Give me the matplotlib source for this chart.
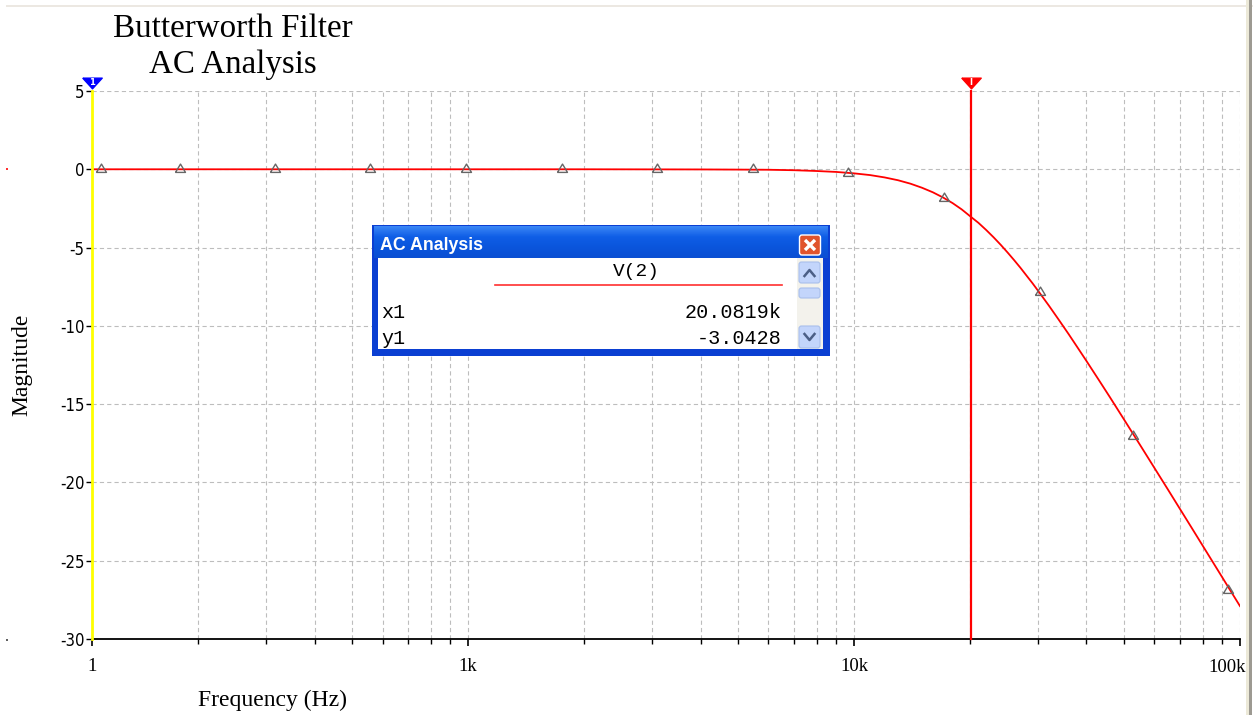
import matplotlib
matplotlib.use('Agg')
import matplotlib.pyplot as plt
from matplotlib.patches import Rectangle, FancyBboxPatch
from matplotlib.ticker import FixedLocator, FixedFormatter, NullFormatter
from matplotlib.colors import LinearSegmentedColormap
import numpy as np

# ---------------- data ----------------
title_lines = ["Butterworth Filter", "AC Analysis"]
x_label = "Frequency (Hz)"
y_label = "Magnitude"

x_min, x_max = 106, 100000
y_min, y_max = -30, 5

x_major_ticks = [106, 1000, 10000, 100000]
x_major_labels = ["1", "1k", "10k", "100k"]
x_minor_ticks = [200, 300, 400, 500, 600, 700, 800, 900,
                 2000, 3000, 4000, 5000, 6000, 7000, 8000, 9000,
                 20000, 30000, 40000, 50000, 60000, 70000, 80000, 90000]
y_ticks = [-30, -25, -20, -15, -10, -5, 0, 5]

curve_freq = [106, 500, 1000, 2000, 4000, 5000, 6000, 7000, 8000, 9000, 10000,
              11000, 12000, 13000, 14000, 15000, 16000, 17000, 18000, 19000,
              20082, 21000, 22000, 23000, 24000, 25000, 26000, 27000, 28000,
              29000, 30000, 32000, 34000, 36000, 38000, 40000, 43000, 46000,
              50000, 55000, 60000, 65000, 70000, 75000, 80000, 85000, 90000,
              95000, 100000]
curve_db = [0.00, 0.00, 0.00, 0.00, -0.01, -0.02, -0.03, -0.06, -0.11, -0.17, -0.26,
            -0.37, -0.52, -0.70, -0.92, -1.18, -1.47, -1.80, -2.16, -2.56,
            -3.04, -3.42, -3.88, -4.35, -4.83, -5.32, -5.81, -6.30, -6.80,
            -7.28, -7.77, -8.72, -9.65, -10.54, -11.41, -12.24, -13.43, -14.55,
            -15.96, -17.58, -19.07, -20.44, -21.72, -22.91, -24.03, -25.08, -26.07,
            -27.01, -27.90]

marker_freq = [112, 179, 316, 557, 988, 1754, 3092, 5470, 9655, 17100, 30300, 52800, 93100]
marker_db = [0, 0, 0, 0, 0, 0, 0, 0, -0.24, -1.83, -7.85, -17.05, -26.85]

cursor1_x = 106
cursor2_x = 20081.9
dialog_title = "AC Analysis"
dialog_trace = "V(2)"
dialog_rows = [("x1", "20.0819k"), ("y1", "-3.0428")]

# ---------------- figure ----------------
W, H = 1253, 715
fig = plt.figure(figsize=(W / 100, H / 100), dpi=100)
fig.patch.set_facecolor('white')

L, R, T, B = 92, 1240, 91, 639
ax = fig.add_axes([L / W, 1 - B / H, (R - L) / W, (B - T) / H])
ax.set_xscale('log')
ax.set_xlim(x_min, x_max)
ax.set_ylim(y_min, y_max)

serif = ['Liberation Serif', 'DejaVu Serif']

ax.xaxis.set_major_locator(FixedLocator(x_major_ticks))
# last label is drawn separately (shifted left so it stays inside the window)
ax.xaxis.set_major_formatter(FixedFormatter(x_major_labels[:-1] + [""]))
ax.xaxis.set_minor_locator(FixedLocator(x_minor_ticks))
ax.xaxis.set_minor_formatter(NullFormatter())
ax.yaxis.set_major_locator(FixedLocator(y_ticks))
ax.set_yticklabels([str(v) for v in y_ticks])

grid_kw = dict(color='#bdbdbd', linewidth=0.8, linestyle=(0, (3.8, 2.8)))
ax.grid(True, which='major', axis='both', **grid_kw)
ax.grid(True, which='minor', axis='x', **grid_kw)
ax.set_axisbelow(True)

for s in ['top', 'right', 'left']:
    ax.spines[s].set_visible(False)
ax.spines['bottom'].set_linewidth(1.3)
ax.spines['bottom'].set_color('black')

ax.tick_params(axis='x', which='major', direction='out', length=5, width=1.2, pad=9,
               labelsize=13.5, colors='black')
ax.tick_params(axis='x', which='minor', direction='out', length=3.5, width=1.0)
ax.tick_params(axis='y', which='major', direction='out', length=4, width=1.0, pad=1.5,
               labelsize=12)
for lab in ax.get_xticklabels():
    lab.set_fontfamily(serif)
for lab in ax.get_yticklabels():
    lab.set_fontfamily('DejaVu Sans')
    lab.set_fontstretch('condensed')

fig.text(1227 / W, 1 - 672 / H, x_major_labels[-1], fontsize=13.5, family=serif,
         ha='center', va='baseline')

# curve and markers
ax.plot(curve_freq, curve_db, color='#ff0000', linewidth=1.3, zorder=4)
tri = [(-0.6, -0.35), (0.6, -0.35), (0.0, 0.65), (-0.6, -0.35)]
ax.plot(marker_freq, marker_db, linestyle='none', marker=tri, markersize=7.8,
        markerfacecolor='none', markeredgecolor='#666666', markeredgewidth=1.0, zorder=5)

# cursors
ax.axvline(cursor1_x, color='#ffff00', linewidth=2.0, zorder=6, clip_on=False)
ax.axvline(cursor2_x, color='#ff0000', linewidth=1.6, zorder=6, clip_on=False)
inv_tri = [(-1, 0.55), (1, 0.55), (0, -0.55), (-1, 0.55)]
ax.plot([cursor1_x], [5.48], marker=inv_tri, markersize=14, color='#0000ff',
        clip_on=False, zorder=7)
ax.plot([cursor2_x], [5.48], marker=inv_tri, markersize=14, color='#ff0000',
        clip_on=False, zorder=7)
ax.text(cursor1_x, 5.52, "1", color='white', fontsize=6, fontweight='bold',
        ha='center', va='center', clip_on=False, zorder=8)
ax.text(cursor2_x, 5.52, "I", color='white', fontsize=6, fontweight='bold',
        ha='center', va='center', clip_on=False, zorder=8)

# titles and axis labels
fig.text(233 / W, 1 - 37 / H, title_lines[0], fontsize=23.8, family=serif,
         ha='center', va='baseline')
fig.text(233 / W, 1 - 73 / H, title_lines[1], fontsize=23.8, family=serif,
         ha='center', va='baseline')
fig.text(273 / W, 1 - 706 / H, x_label, fontsize=17, family=serif,
         ha='center', va='baseline')
fig.text(22 / W, 1 - 365 / H, y_label, fontsize=17, family=serif,
         ha='center', va='center', rotation=90)

# ---------------- overlay (window decorations + dialog) ----------------
ov = fig.add_axes([0, 0, 1, 1], zorder=10)
ov.set_xlim(0, W)
ov.set_ylim(H, 0)
ov.axis('off')
ov.patch.set_alpha(0)

# window edges
ov.add_patch(Rectangle((6, 5), W - 6, 1.5, color='#ece8e2', lw=0))
ov.add_patch(Rectangle((1246, 0), 3, H, color='#ece9d8', lw=0))
ov.add_patch(Rectangle((1249, 0), 2.5, H, color='#9d9a92', lw=0))
ov.add_patch(Rectangle((6, 168), 2, 2, color='#ff3030', lw=0))
ov.add_patch(Rectangle((6, 639), 2, 2, color='#606060', lw=0))

# dialog
dx0, dy0, dx1, dy1 = 372, 225, 830, 356
ov.add_patch(Rectangle((dx0, dy0), dx1 - dx0, dy1 - dy0, color='#0b3fd2', lw=0))
grad = np.linspace(0, 1, 32).reshape(-1, 1)
cm = LinearSegmentedColormap.from_list('xp', ['#3a86f6', '#0f5ee6', '#0a55dc', '#0b4fd3'])
ov.imshow(grad, cmap=cm, aspect='auto', extent=(dx0 + 2, dx1 - 2, 258, 226), zorder=1)
ov.add_patch(Rectangle((378, 258), 419, 91, color='white', lw=0, zorder=2))
ov.add_patch(Rectangle((797, 258), 26, 91, color='#f3f2ec', lw=0, zorder=2))
for (by0, by1) in [(262, 283), (288, 298), (326, 348)]:
    ov.add_patch(FancyBboxPatch((799, by0), 21, by1 - by0,
                                boxstyle='round,pad=0,rounding_size=2.5',
                                facecolor='#c3d5fb', edgecolor='#a9bfeb', lw=0.8, zorder=3))
ov.plot([804.5, 809.5, 814.5], [276, 270, 276], color='#4c5f86', lw=1.8, zorder=4)
ov.plot([804.5, 809.5, 814.5], [334, 340, 334], color='#4c5f86', lw=1.8, zorder=4)
ov.add_patch(FancyBboxPatch((799.5, 235), 21, 20, boxstyle='round,pad=0,rounding_size=2.5',
                            facecolor='#e0532c', edgecolor='white', lw=1.0, zorder=3))
ov.plot([805, 815], [240, 250], color='white', lw=2.4, zorder=4, solid_capstyle='butt')
ov.plot([805, 815], [250, 240], color='white', lw=2.4, zorder=4, solid_capstyle='butt')
ov.text(380, 245, dialog_title, color='white', fontsize=12.8, fontweight='bold',
        family=['Liberation Sans', 'DejaVu Sans'], ha='left', va='center', zorder=5)
mono = ['Liberation Mono', 'DejaVu Sans Mono']
ov.text(636, 272, dialog_trace, fontsize=14, family=mono, ha='center', va='center', zorder=5)
ov.plot([495, 782], [285, 285], color='#ff3030', lw=1.2, zorder=5)
for (name, val), yy in zip(dialog_rows, [312, 338]):
    ov.text(381, yy, name, fontsize=14.5, family=mono, ha='left', va='center', zorder=5)
    ov.text(782, yy, val, fontsize=14.5, family=mono, ha='right', va='center', zorder=5)

fig.savefig('out.png', dpi=100)
